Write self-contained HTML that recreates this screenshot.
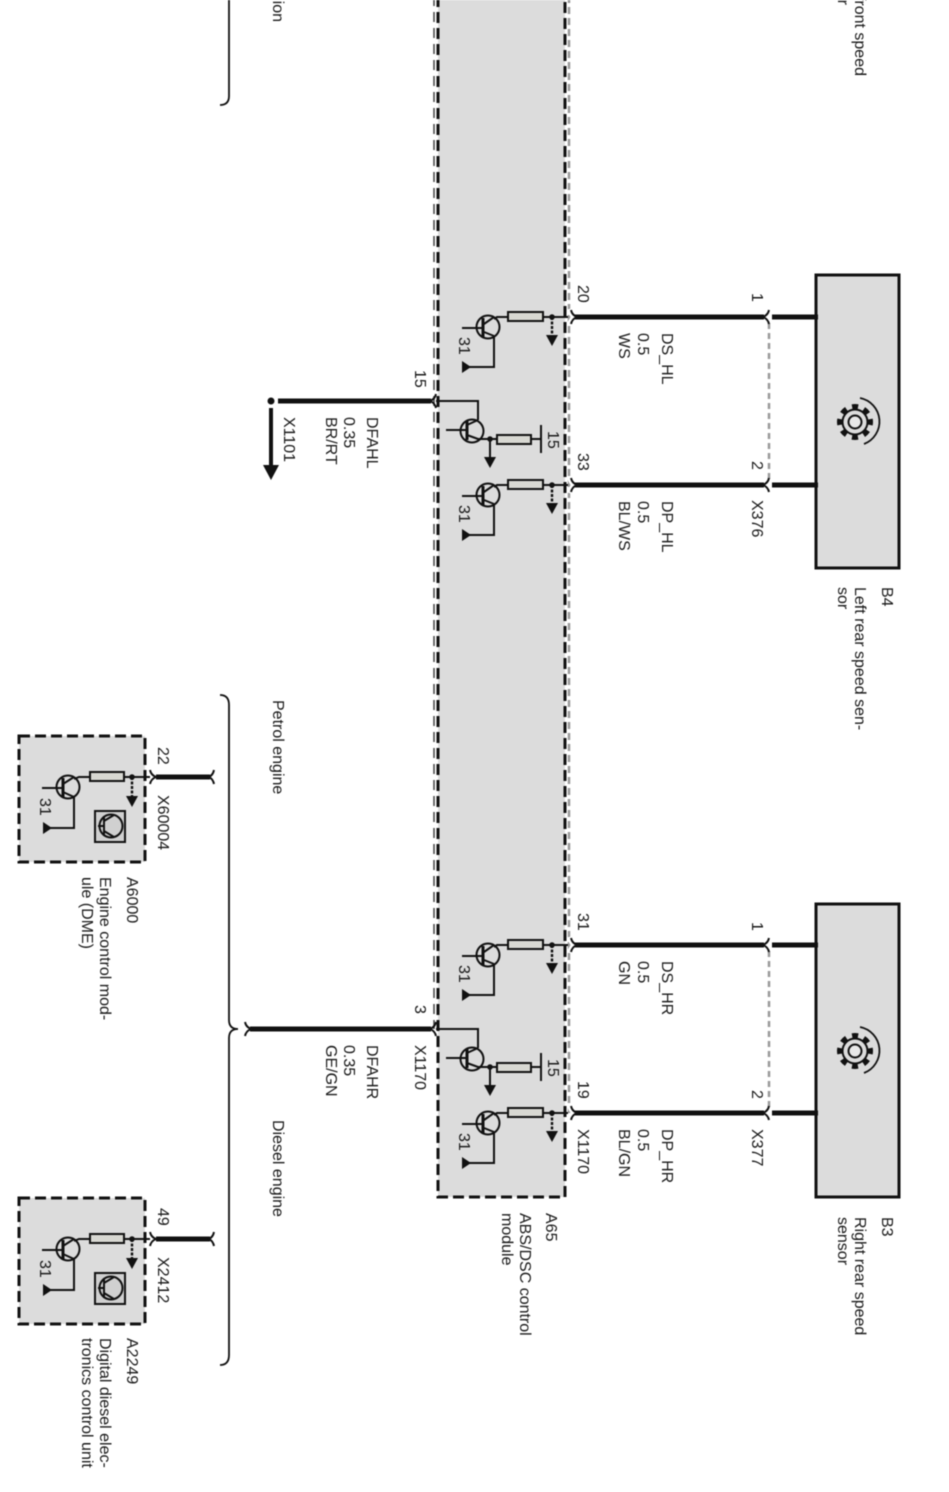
<!DOCTYPE html>
<html>
<head>
<meta charset="utf-8">
<style>
html,body{margin:0;padding:0;background:#fff;width:949px;height:1492px;overflow:hidden}
svg{display:block;filter:blur(.45px)}
text{font-family:"Liberation Sans",sans-serif;font-size:16px;fill:#1a1a1a}
</style>
</head>
<body>
<svg width="949" height="1492" viewBox="0 0 949 1492" xmlns="http://www.w3.org/2000/svg">
<defs>
<g id="tr31" fill="none" stroke="#111">
  <rect x="508" y="312" width="35" height="9" fill="#d8d8d2" stroke-width="2"/>
  <path d="M543 317H568" stroke-width="2"/>
  <path d="M552 317V338" stroke-width="2.4" stroke-dasharray="3 1.5"/>
  <path d="M552 346l-6-11h12z" fill="#111" stroke="none"/>
  <circle cx="552" cy="317" r="2.8" fill="#111" stroke="none"/>
  <path d="M508 317H497L494 319" stroke-width="2"/>
  <circle cx="488" cy="327" r="11.5" stroke-width="2"/>
  <path d="M462 328H483M494 336V367H468M484 324L494 317M484 332L494 336" stroke-width="2"/>
  <path d="M483 318V337" stroke-width="3"/>
  <path d="M462 361v12l9-6z" fill="#111" stroke="none"/>
</g>
<g id="trmid" fill="none" stroke="#111">
  <path d="M436 401H478V420" stroke-width="2"/>
  <circle cx="472" cy="431" r="11.5" stroke-width="2"/>
  <path d="M446 430H467M467 425L478 420M467 435L478 439H497" stroke-width="2"/>
  <path d="M467 421V440" stroke-width="3"/>
  <rect x="497" y="435" width="34" height="9" fill="#d8d8d2" stroke-width="2"/>
  <path d="M531 439H541M541 425V453" stroke-width="2"/>
  <circle cx="490" cy="439" r="2.8" fill="#111" stroke="none"/>
  <path d="M490 439V460" stroke-width="2"/>
  <path d="M490 468l-6-11h12z" fill="#111" stroke="none"/>
</g>
<g id="smallmod" fill="none" stroke="#111">
  <rect x="19" y="736" width="126" height="126" fill="#dcdcdc" stroke-width="3" stroke-dasharray="11 5"/>
  <rect x="90" y="772" width="34" height="9" fill="#d8d8d2" stroke-width="2"/>
  <path d="M124 777H150M90 777H79L74 779" stroke-width="2"/>
  <path d="M132 777V798" stroke-width="2.4" stroke-dasharray="3 1.5"/>
  <path d="M132 807l-6-11h12z" fill="#111" stroke="none"/>
  <circle cx="132" cy="777" r="2.8" fill="#111" stroke="none"/>
  <circle cx="68" cy="787" r="11.5" stroke-width="2"/>
  <path d="M42 788H63M74 797V828H50M63 784L74 777M63 792L74 797" stroke-width="2"/>
  <path d="M63 778V797" stroke-width="3"/>
  <path d="M43 822v12l9-6z" fill="#111" stroke="none"/>
  <rect x="95" y="811" width="30" height="31" fill="#d0d0d0" stroke-width="2"/>
  <circle cx="111" cy="826" r="11.5" stroke-width="2"/>
  <path d="M98 826H104M104 816V836M104 821L114 815M104 831L114 837" stroke-width="2"/>
</g>
<g id="sensorbox" fill="none" stroke="#111">
  <rect x="816" y="275" width="83" height="293" fill="#dcdcdc" stroke-width="3"/>
  <circle cx="855" cy="422" r="15.5" stroke-width="5" stroke-dasharray="6 6.17" stroke-dashoffset="3"/>
  <circle cx="855" cy="422" r="12.5" fill="#dcdcdc" stroke-width="2"/>
  <circle cx="855" cy="422" r="6.5" fill="#e8e8e8" stroke-width="2"/>
  <path d="M860 398A24 24 0 0 1 864 444" stroke-width="1.8"/>
</g>
<g id="pinwire" fill="none" stroke="#111">
  <path d="M569 309q1 6 6 8q-5 2-6 8" stroke="#fff" stroke-width="4"/>
  <path d="M575 317H764" stroke-width="5"/>
  <path d="M571 310q1 5 6 7q-5 2-6 7" stroke-width="2"/>
  <path d="M772 317H818" stroke-width="5"/>
  <path d="M769 310q-1 5-6 7q5 2 6 7" stroke-width="2"/>
</g>
</defs>

<rect width="949" height="1492" fill="#fff"/>

<!-- main module -->
<rect x="438" y="-10" width="127" height="1207" fill="#dcdcdc"/>
<path d="M438 -4V1197H565V-4" fill="none" stroke="#111" stroke-width="3" stroke-dasharray="11 5"/>
<path d="M569 -4V1113" fill="none" stroke="#999" stroke-width="2.5" stroke-dasharray="7 4"/>
<path d="M434 -4V1029" fill="none" stroke="#444" stroke-width="1.5" stroke-dasharray="10 6"/>

<!-- brace -->
<path d="M220 105Q229 105 229 96V-5" fill="none" stroke="#111" stroke-width="1.8"/>
<path d="M220 695Q229 695 229 705V1020Q229 1029 238 1029Q229 1029 229 1038V1355Q229 1365 220 1365" fill="none" stroke="#111" stroke-width="1.8"/>

<!-- rear sensors -->
<use href="#sensorbox"/>
<use href="#sensorbox" y="629"/>
<path d="M769 323V479M769 951V1107" fill="none" stroke="#999" stroke-width="2.5" stroke-dasharray="6 4"/>

<!-- wires -->
<use href="#pinwire"/>
<use href="#pinwire" y="168"/>
<use href="#pinwire" y="628"/>
<use href="#pinwire" y="796"/>

<!-- transistors -->
<use href="#tr31"/>
<use href="#tr31" y="168"/>
<use href="#tr31" y="628"/>
<use href="#tr31" y="796"/>
<use href="#trmid"/>
<use href="#trmid" y="628"/>

<!-- left wires -->
<g fill="none" stroke="#111">
  <path d="M278 401H431" stroke-width="5"/>
  <path d="M436 394q-1 5-6 7q5 2 6 7" stroke-width="2"/>
  <path d="M250 1029H431" stroke-width="5"/>
  <path d="M436 1022q-1 5-6 7q5 2 6 7" stroke-width="2"/>
  <path d="M245 1022q1 5 6 7q-5 2-6 7" stroke-width="2"/>
  <path d="M271 408V468" stroke-width="4"/>
</g>
<circle cx="271" cy="401" r="3.5" fill="#111"/>
<path d="M271 480l-8-15h16z" fill="#111"/>

<!-- small modules -->
<use href="#smallmod"/>
<use href="#smallmod" y="462"/>
<g fill="none" stroke="#111">
  <path d="M156 777H210M156 1239H210" stroke-width="5"/>
  <path d="M150 770q1 5 6 7q-5 2-6 7M150 1232q1 5 6 7q-5 2-6 7" stroke-width="2"/>
  <path d="M214 770q-1 5-5 7q4 2 5 7M214 1232q-1 5-5 7q4 2 5 7" stroke-width="2"/>
</g>

<!-- labels -->
<g>
<text transform="translate(578 285) rotate(90)">20</text>
<text transform="translate(578 453) rotate(90)">33</text>
<text transform="translate(578 913) rotate(90)">31</text>
<text transform="translate(578 1081) rotate(90)">19</text>
<text transform="translate(578 1129) rotate(90)">X1170</text>

<text transform="translate(752 293) rotate(90)">1</text>
<text transform="translate(752 461) rotate(90)">2</text>
<text transform="translate(752 500) rotate(90)">X376</text>
<text transform="translate(752 922) rotate(90)">1</text>
<text transform="translate(752 1090) rotate(90)">2</text>
<text transform="translate(752 1129) rotate(90)">X377</text>

<text transform="translate(662 333) rotate(90)">DS_HL</text>
<text transform="translate(638 333) rotate(90)">0.5</text>
<text transform="translate(619 333) rotate(90)">WS</text>
<text transform="translate(662 501) rotate(90)">DP_HL</text>
<text transform="translate(638 501) rotate(90)">0.5</text>
<text transform="translate(619 501) rotate(90)">BL/WS</text>
<text transform="translate(662 961) rotate(90)">DS_HR</text>
<text transform="translate(638 961) rotate(90)">0.5</text>
<text transform="translate(619 961) rotate(90)">GN</text>
<text transform="translate(662 1129) rotate(90)">DP_HR</text>
<text transform="translate(638 1129) rotate(90)">0.5</text>
<text transform="translate(619 1129) rotate(90)">BL/GN</text>

<text transform="translate(415 370) rotate(90)">15</text>
<text transform="translate(367 417) rotate(90)">DFAHL</text>
<text transform="translate(344 417) rotate(90)">0.35</text>
<text transform="translate(326 417) rotate(90)">BR/RT</text>
<text transform="translate(284 417) rotate(90)">X1101</text>

<text transform="translate(415 1005) rotate(90)">3</text>
<text transform="translate(415 1045) rotate(90)">X1170</text>
<text transform="translate(367 1045) rotate(90)">DFAHR</text>
<text transform="translate(344 1045) rotate(90)">0.35</text>
<text transform="translate(326 1045) rotate(90)">GE/GN</text>

<text transform="translate(548 431) rotate(90)">15</text>
<text transform="translate(548 1059) rotate(90)">15</text>

<text transform="translate(459 337) rotate(90)">31</text>
<text transform="translate(459 505) rotate(90)">31</text>
<text transform="translate(459 965) rotate(90)">31</text>
<text transform="translate(459 1133) rotate(90)">31</text>
<text transform="translate(40 798) rotate(90)">31</text>
<text transform="translate(40 1260) rotate(90)">31</text>

<text transform="translate(273 700) rotate(90)">Petrol engine</text>
<text transform="translate(273 1120) rotate(90)">Diesel engine</text>
<text transform="translate(273 22) rotate(90)" text-anchor="end">Automatic transmission</text>

<text transform="translate(855 76) rotate(90)" text-anchor="end">Left front speed</text>
<text transform="translate(838 5) rotate(90)" text-anchor="end">sensor</text>

<text transform="translate(882 587) rotate(90)">B4</text>
<text transform="translate(855 587) rotate(90)">Left rear speed sen-</text>
<text transform="translate(838 587) rotate(90)">sor</text>
<text transform="translate(882 1217) rotate(90)">B3</text>
<text transform="translate(855 1217) rotate(90)">Right rear speed</text>
<text transform="translate(838 1217) rotate(90)">sensor</text>

<text transform="translate(546 1213) rotate(90)">A65</text>
<text transform="translate(520 1213) rotate(90)">ABS/DSC control</text>
<text transform="translate(502 1213) rotate(90)">module</text>

<text transform="translate(158 747) rotate(90)">22</text>
<text transform="translate(158 795) rotate(90)">X60004</text>
<text transform="translate(127 877) rotate(90)">A6000</text>
<text transform="translate(100 877) rotate(90)">Engine control mod-</text>
<text transform="translate(82 877) rotate(90)">ule (DME)</text>

<text transform="translate(158 1208) rotate(90)">49</text>
<text transform="translate(158 1257) rotate(90)">X2412</text>
<text transform="translate(127 1338) rotate(90)">A2249</text>
<text transform="translate(100 1338) rotate(90)">Digital diesel elec-</text>
<text transform="translate(82 1338) rotate(90)">tronics control unit</text>
</g>
</svg>
</body>
</html>
